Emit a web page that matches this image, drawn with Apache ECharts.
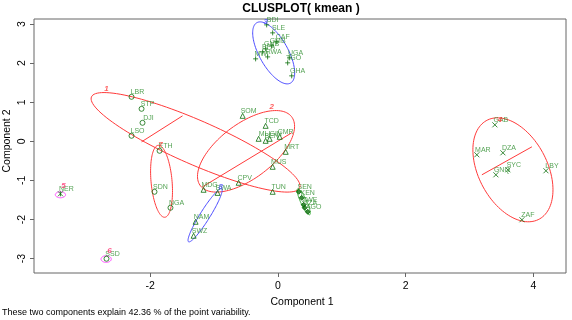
<!DOCTYPE html>
<html><head><meta charset="utf-8">
<script src="https://cdn.jsdelivr.net/npm/echarts@6/dist/echarts.min.js"></script>
<style>html,body{margin:0;padding:0;background:#fff}#c{width:572px;height:320px}</style>
</head><body><div id="c"></div>
<script>
// ---- data ----
const countries = ['LBR','STP','DJI','LSO',
  'SOM','TCD','MLI','GIN','CMR','BEN','MRT','MUS','CPV','TUN','MDG',
  'BDI','SLE','CAF','GMB','GNB','MWI','RWA','BFA','UGA','TGO','GHA',
  'GAB','MAR','DZA','GNQ','SYC','LBY','ZAF',
  'NER','SSD',
  'ETH','SDN','NGA',
  'BWA','NAM','SWZ',
  'SEN','KEN','ZWE','TZA','AGO'];
const pc1 = [-2.293,-2.136,-2.121,-2.293,
  -0.553,-0.193,-0.303,-0.130,0.027,-0.193,0.121,-0.083,-0.616,-0.083,-1.165,
  -0.177,-0.083,-0.020,-0.099,-0.193,-0.350,-0.162,-0.240,0.183,0.152,0.215,
  3.396,3.114,3.522,3.412,3.600,4.196,3.820,
  -3.406,-2.685,
  -1.854,-1.933,-1.683,
  -0.945,-1.290,-1.321,
  0.325,0.371,0.403,0.418,0.466];
const pc2 = [1.138,0.831,0.473,0.141,
  0.652,0.396,0.064,0.064,0.115,0.013,-0.269,-0.652,-1.061,-1.292,-1.240,
  2.980,2.775,2.545,2.442,2.366,2.110,2.160,2.290,2.136,2.008,1.675,
  0.422,-0.345,-0.294,-0.857,-0.729,-0.754,-2.008,
  -1.343,-3.005,
  -0.243,-1.292,-1.701,
  -1.320,-2.059,-2.417,
  -1.292,-1.445,-1.624,-1.701,-1.803];
const cluster = [1,1,1,1,
  2,2,2,2,2,2,2,2,2,2,2,
  3,3,3,3,3,3,3,3,3,3,3,
  4,4,4,4,4,4,4,
  5,6,
  7,7,7,
  8,8,8,
  9,9,9,9,9];
// ellipses: centre (cx,cy) and two conjugate semi-axes (u, v), in data units
const ellCluster = [1,2,3,4,5,6,7,8,9];
const ellCx = [-1.290,-0.500,-0.067,3.679,-3.406,-2.690,-1.823,-1.141,0.403];
const ellCy = [-0.026,-0.256,2.263,-0.729,-1.368,-3.013,-1.023,-1.893,-1.547];
const ellUx = [1.630,0.760,0.329,0.627,0.080,0.080,-0.047,0.259,0.094];
const ellUy = [-1.164,0.640,-0.512,-0.512,0,0,0.921,0.678,-0.332];
const ellVx = [-0.138,0,0,0,0,0,0.165,0.066,0.042];
const ellVy = [-0.517,0.824,0.606,1.228,0.077,0.085,0,-0.066,0.033];
// distance segments
const segX1 = [-1.494,-1.180,3.193];
const segY1 = [0.652,-1.164,-0.857];
const segX2 = [-2.136,0.215,3.976];
const segY2 = [-0.013,0.217,-0.141];
// cluster number labels
const clusLabText = ['1','2','3','4','5','6','7','8'];
const clusLabX = [-2.685,-0.099,-0.193,3.475,-3.359,-2.638,-1.839,-0.898];
const clusLabY = [1.343,0.882,3.056,0.550,-1.138,-2.801,-0.090,-1.164];
const xTicks = [-2,0,2,4];
const yTicks = [-3,-2,-1,0,1,2,3];

// ---- styles ----
const RED='#ff3a3a', BLUE='#4a4aff', MAG='#ff40ff', GRN='#2faa2f';
const ellColor = {1:RED,2:RED,3:BLUE,4:RED,5:MAG,6:MAG,7:RED,8:BLUE,9:GRN};
const labColor = [RED,RED,BLUE,RED,'#ff3070','#ff3070',RED,BLUE];
const PT='#0b6e0b', TXT='#2a8c2a';
const symbolFor = {
  1:'circle',2:'triangle',3:'path://M5,0L5,10M0,5L10,5',4:'path://M0,0L10,10M10,0L0,10',
  5:'path://M0,0L10,10M10,0L0,10M5,0L5,10',6:'circle',7:'circle',8:'triangle',9:'diamond'
};
const font = '"Liberation Sans", Arial, sans-serif';

const scatterSeries = [];
for (let k = 1; k <= 9; k++) {
  const d = [];
  countries.forEach((c, i) => { if (cluster[i] === k) d.push({name: c, value: [pc1[i], pc2[i]]}); });
  scatterSeries.push({
    type: 'scatter', data: d, symbol: symbolFor[k], symbolSize: 5,
    itemStyle: {color: k === 9 ? PT : 'rgba(0,0,0,0)', borderColor: PT, borderWidth: 1},
    label: {show: true, formatter: '{b}', position: 'inside', offset: [6, -5],
      color: TXT, fontSize: 7, fontFamily: font, align: 'center', verticalAlign: 'middle'},
    z: 3, silent: true
  });
}

const ellData = ellCluster.map((k, i) => [ellCx[i], ellCy[i], ellUx[i], ellUy[i], ellVx[i], ellVy[i], k]);
const segData = segX1.map((x, i) => [x, segY1[i], segX2[i], segY2[i]]);

const option = {
  animation: false,
  backgroundColor: '#fff',
  grid: {left: 34, right: 6, top: 19, bottom: 47, show: true, borderColor: '#666', borderWidth: 1, backgroundColor: 'transparent'},
  xAxis: {type: 'value', min: -3.82, max: 4.51,
    axisLine: {show: false, onZero: false}, splitLine: {show: false},
    axisTick: {show: true, customValues: xTicks, length: 4, lineStyle: {color: '#666'}},
    axisLabel: {show: true, customValues: xTicks, margin: 8, color: '#000', fontSize: 10.5, fontFamily: font}},
  yAxis: {type: 'value', min: -3.37, max: 3.13,
    axisLine: {show: false, onZero: false}, splitLine: {show: false},
    axisTick: {show: true, customValues: yTicks, length: 4, lineStyle: {color: '#666'}},
    axisLabel: {show: true, customValues: yTicks, margin: 6, rotate: 90, color: '#000', fontSize: 10.5, fontFamily: font}},
  graphic: [
    {type: 'text', x: 301, y: 9, style: {text: 'CLUSPLOT( kmean )', font: 'bold 12px ' + font, fill: '#000', textAlign: 'center', textVerticalAlign: 'middle'}},
    {type: 'text', x: 302, y: 302, style: {text: 'Component 1', font: '10.5px ' + font, fill: '#000', textAlign: 'center', textVerticalAlign: 'middle'}},
    {type: 'text', x: 7, y: 141, rotation: Math.PI / 2, style: {text: 'Component 2', font: '10.5px ' + font, fill: '#000', textAlign: 'center', textVerticalAlign: 'middle'}},
    {type: 'text', x: 2, y: 313, style: {text: 'These two components explain 42.36 % of the point variability.', font: '9px ' + font, fill: '#000', textAlign: 'left', textVerticalAlign: 'middle'}}
  ],
  series: [
    {type: 'custom', data: ellData, encode: {x: 0, y: 1}, z: 1, silent: true,
      renderItem: function (params, api) {
        const cx = api.value(0), cy = api.value(1), ux = api.value(2), uy = api.value(3), vx = api.value(4), vy = api.value(5), k = api.value(6);
        const pts = [];
        for (let j = 0; j < 120; j++) {
          const t = 2 * Math.PI * j / 120, c = Math.cos(t), s = Math.sin(t);
          pts.push(api.coord([cx + ux * c + vx * s, cy + uy * c + vy * s]));
        }
        return {type: 'polygon', shape: {points: pts}, style: {fill: 'none', stroke: ellColor[k], lineWidth: 1}};
      }},
    {type: 'custom', data: segData, encode: {x: 0, y: 1}, z: 1, silent: true,
      renderItem: function (params, api) {
        const a = api.coord([api.value(0), api.value(1)]), b = api.coord([api.value(2), api.value(3)]);
        return {type: 'line', shape: {x1: a[0], y1: a[1], x2: b[0], y2: b[1]}, style: {stroke: RED, lineWidth: 1}};
      }},
    ...scatterSeries,
    {type: 'scatter', symbolSize: 0, z: 4, silent: true,
      data: clusLabText.map((t, i) => ({name: t, value: [clusLabX[i], clusLabY[i]],
        label: {color: labColor[i]}})),
      label: {show: true, formatter: '{b}', position: 'inside', fontSize: 8, fontStyle: 'italic', fontWeight: 'bold', fontFamily: font}}
  ]
};
const chart = echarts.init(document.getElementById('c'), null, {renderer: 'canvas'});
chart.setOption(option);
</script>
</body></html>
